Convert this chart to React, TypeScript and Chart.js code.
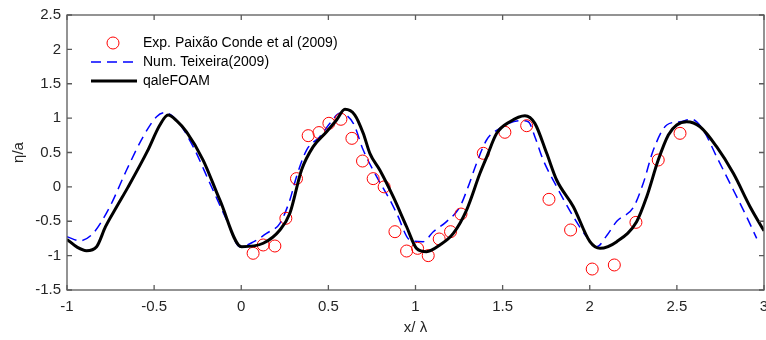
import React, { useEffect, useRef } from "react";
import { Chart, registerables } from "chart.js";

Chart.register(...registerables);

// Experimental data (Paixão Conde et al 2009)
const expX = [0.068, 0.126, 0.193, 0.256, 0.317, 0.384, 0.446, 0.503, 0.572, 0.635, 0.696, 0.757, 0.82, 0.882, 0.949, 1.012, 1.073, 1.136, 1.201, 1.261, 1.389, 1.513, 1.638, 1.766, 1.89, 2.014, 2.141, 2.265, 2.393, 2.518];
const expY = [-0.966, -0.845, -0.86, -0.457, 0.12, 0.745, 0.79, 0.925, 0.983, 0.706, 0.376, 0.12, 0.0, -0.652, -0.933, -0.894, -1.0, -0.758, -0.652, -0.395, 0.488, 0.794, 0.89, -0.181, -0.627, -1.195, -1.136, -0.516, 0.391, 0.779];

// Num. Teixeira (2009)
const numX = [-1.0, -0.926, -0.85, -0.754, -0.658, -0.563, -0.486, -0.439, -0.371, -0.276, -0.18, -0.084, -0.008, 0.07, 0.145, 0.222, 0.279, 0.317, 0.375, 0.451, 0.509, 0.566, 0.643, 0.7, 0.777, 0.853, 0.892, 0.968, 1.044, 1.102, 1.178, 1.255, 1.302, 1.35, 1.408, 1.484, 1.599, 1.647, 1.685, 1.733, 1.81, 1.906, 1.982, 2.04, 2.1, 2.155, 2.25, 2.307, 2.365, 2.442, 2.518, 2.585, 2.651, 2.728, 2.824, 2.9, 2.958];
const numY = [-0.725, -0.783, -0.675, -0.288, 0.245, 0.73, 1.02, 1.079, 0.973, 0.585, 0.052, -0.48, -0.87, -0.8, -0.676, -0.53, -0.19, 0.148, 0.536, 0.73, 0.924, 1.07, 0.924, 0.536, 0.148, -0.19, -0.385, -0.773, -0.797, -0.652, -0.506, -0.288, 0.0, 0.34, 0.682, 0.852, 0.963, 0.948, 0.73, 0.39, 0.003, -0.433, -0.725, -0.87, -0.7, -0.5, -0.3, 0.052, 0.536, 0.9, 0.948, 0.983, 0.827, 0.439, -0.045, -0.433, -0.75];

// qaleFOAM
const qaleX = [-1.0, -0.94, -0.888, -0.83, -0.779, -0.715, -0.649, -0.54, -0.467, -0.42, -0.37, -0.314, -0.219, -0.123, 0.002, 0.126, 0.222, 0.279, 0.346, 0.413, 0.49, 0.547, 0.595, 0.652, 0.7, 0.738, 0.795, 0.872, 0.949, 1.006, 1.063, 1.14, 1.217, 1.293, 1.37, 1.408, 1.466, 1.542, 1.628, 1.685, 1.753, 1.81, 1.906, 2.001, 2.059, 2.155, 2.269, 2.327, 2.393, 2.451, 2.499, 2.556, 2.633, 2.728, 2.824, 2.92, 3.0];
const qaleY = [-0.763, -0.88, -0.928, -0.87, -0.579, -0.29, 0.0, 0.512, 0.9, 1.045, 0.96, 0.8, 0.39, -0.19, -0.87, -0.82, -0.627, -0.385, 0.245, 0.585, 0.803, 0.973, 1.128, 1.045, 0.78, 0.488, 0.245, -0.143, -0.58, -0.894, -0.943, -0.845, -0.676, -0.337, 0.197, 0.43, 0.779, 0.948, 1.035, 0.924, 0.488, 0.1, -0.288, -0.797, -0.894, -0.797, -0.506, -0.143, 0.39, 0.755, 0.9, 0.948, 0.875, 0.585, 0.197, -0.288, -0.64];

const xTicks = [-1, -0.5, 0, 0.5, 1, 1.5, 2, 2.5, 3];
const yTicks = [-1.5, -1, -0.5, 0, 0.5, 1, 1.5, 2, 2.5];

const legendLabels = ["Exp. Paixão Conde et al (2009)", "Num. Teixeira(2009)", "qaleFOAM"];

const FONT = '"Liberation Sans", Arial, sans-serif';

const toPts = (xs: number[], ys: number[]) => xs.map((x, i) => ({ x, y: ys[i] }));

const boxPlugin = {
  id: "boxAndLegend",
  afterDraw(chart: any) {
    const { ctx, chartArea } = chart;
    const { left, right, top, bottom } = chartArea;
    const xs = chart.scales.x;
    const ys = chart.scales.y;
    ctx.save();
    ctx.strokeStyle = "#5a5a5a";
    ctx.lineWidth = 1.3;
    ctx.setLineDash([]);
    ctx.strokeRect(left, top, right - left, bottom - top);
    const tl = 5;
    ctx.beginPath();
    xTicks.forEach((v) => {
      const px = xs.getPixelForValue(v);
      ctx.moveTo(px, bottom);
      ctx.lineTo(px, bottom - tl);
      ctx.moveTo(px, top);
      ctx.lineTo(px, top + tl);
    });
    yTicks.forEach((v) => {
      const py = ys.getPixelForValue(v);
      ctx.moveTo(left, py);
      ctx.lineTo(left + tl, py);
      ctx.moveTo(right, py);
      ctx.lineTo(right - tl, py);
    });
    ctx.stroke();

    // legend
    const lx = left + 24;
    const tx = left + 76;
    const rows = [top + 28, top + 47, top + 66];
    ctx.strokeStyle = "#ff0000";
    ctx.lineWidth = 1;
    ctx.beginPath();
    ctx.arc(left + 46, rows[0], 6, 0, Math.PI * 2);
    ctx.stroke();
    ctx.strokeStyle = "#0000ff";
    ctx.lineWidth = 1.5;
    ctx.setLineDash([10, 6]);
    ctx.beginPath();
    ctx.moveTo(lx, rows[1]);
    ctx.lineTo(lx + 44, rows[1]);
    ctx.stroke();
    ctx.setLineDash([]);
    ctx.strokeStyle = "#000000";
    ctx.lineWidth = 3;
    ctx.beginPath();
    ctx.moveTo(lx, rows[2]);
    ctx.lineTo(lx + 46, rows[2]);
    ctx.stroke();
    ctx.fillStyle = "#000000";
    ctx.font = `14px ${FONT}`;
    ctx.textBaseline = "middle";
    ctx.textAlign = "left";
    legendLabels.forEach((t, i) => ctx.fillText(t, tx, rows[i]));
    ctx.restore();
  },
};

export default function App() {
  const ref = useRef<HTMLCanvasElement | null>(null);
  useEffect(() => {
    if (!ref.current) return;
    const chart = new Chart(ref.current, {
      type: "scatter",
      data: {
        datasets: [
          {
            label: legendLabels[0],
            data: toPts(expX, expY),
            showLine: false,
            pointRadius: 6,
            pointStyle: "circle",
            borderColor: "#ff0000",
            backgroundColor: "rgba(0,0,0,0)",
            borderWidth: 1,
            order: 1,
          },
          {
            label: legendLabels[1],
            data: toPts(numX, numY),
            showLine: true,
            pointRadius: 0,
            borderColor: "#0000ff",
            borderWidth: 1.5,
            borderDash: [10, 6],
            cubicInterpolationMode: "monotone",
            fill: false,
            order: 2,
          },
          {
            label: legendLabels[2],
            data: toPts(qaleX, qaleY),
            showLine: true,
            pointRadius: 0,
            borderColor: "#000000",
            borderWidth: 3,
            cubicInterpolationMode: "monotone",
            fill: false,
            order: 0,
          },
        ],
      },
      options: {
        responsive: false,
        animation: false,
        devicePixelRatio: 1,
        layout: { autoPadding: false, padding: { top: 15, right: 2, left: 0, bottom: 0 } },
        plugins: { legend: { display: false }, tooltip: { enabled: false } },
        scales: {
          x: {
            type: "linear",
            min: -1,
            max: 3,
            afterBuildTicks: (s: any) => {
              s.ticks = xTicks.map((v) => ({ value: v }));
            },
            afterFit: (s: any) => {
              s.height = 50;
              s.paddingLeft = 0;
              s.paddingRight = 0;
            },
            grid: { display: false, drawTicks: false },
            border: { display: false },
            ticks: {
              color: "#262626",
              font: { family: FONT, size: 15 },
              padding: 8,
              maxRotation: 0,
              callback: (v: any) => String(v),
            },
            title: {
              display: true,
              text: "x/ λ",
              color: "#262626",
              font: { family: FONT, size: 15 },
              padding: { top: 0, bottom: 3 },
            },
          },
          y: {
            type: "linear",
            min: -1.5,
            max: 2.5,
            afterBuildTicks: (s: any) => {
              s.ticks = yTicks.map((v) => ({ value: v }));
            },
            afterFit: (s: any) => {
              s.width = 67;
              s.paddingTop = 0;
              s.paddingBottom = 0;
            },
            grid: { display: false, drawTicks: false },
            border: { display: false },
            ticks: {
              color: "#262626",
              font: { family: FONT, size: 15 },
              padding: 6,
              callback: (v: any) => String(v),
            },
            title: {
              display: true,
              text: "η/a",
              color: "#262626",
              font: { family: FONT, size: 15 },
              padding: { top: 10, bottom: 0 },
            },
          },
        },
      },
      plugins: [boxPlugin],
    });
    return () => chart.destroy();
  }, []);
  return (
    <div style={{ position: "fixed", left: 0, top: 0, width: 766, height: 340, background: "#fff" }}>
      <canvas ref={ref} width={766} height={340} />
    </div>
  );
}
